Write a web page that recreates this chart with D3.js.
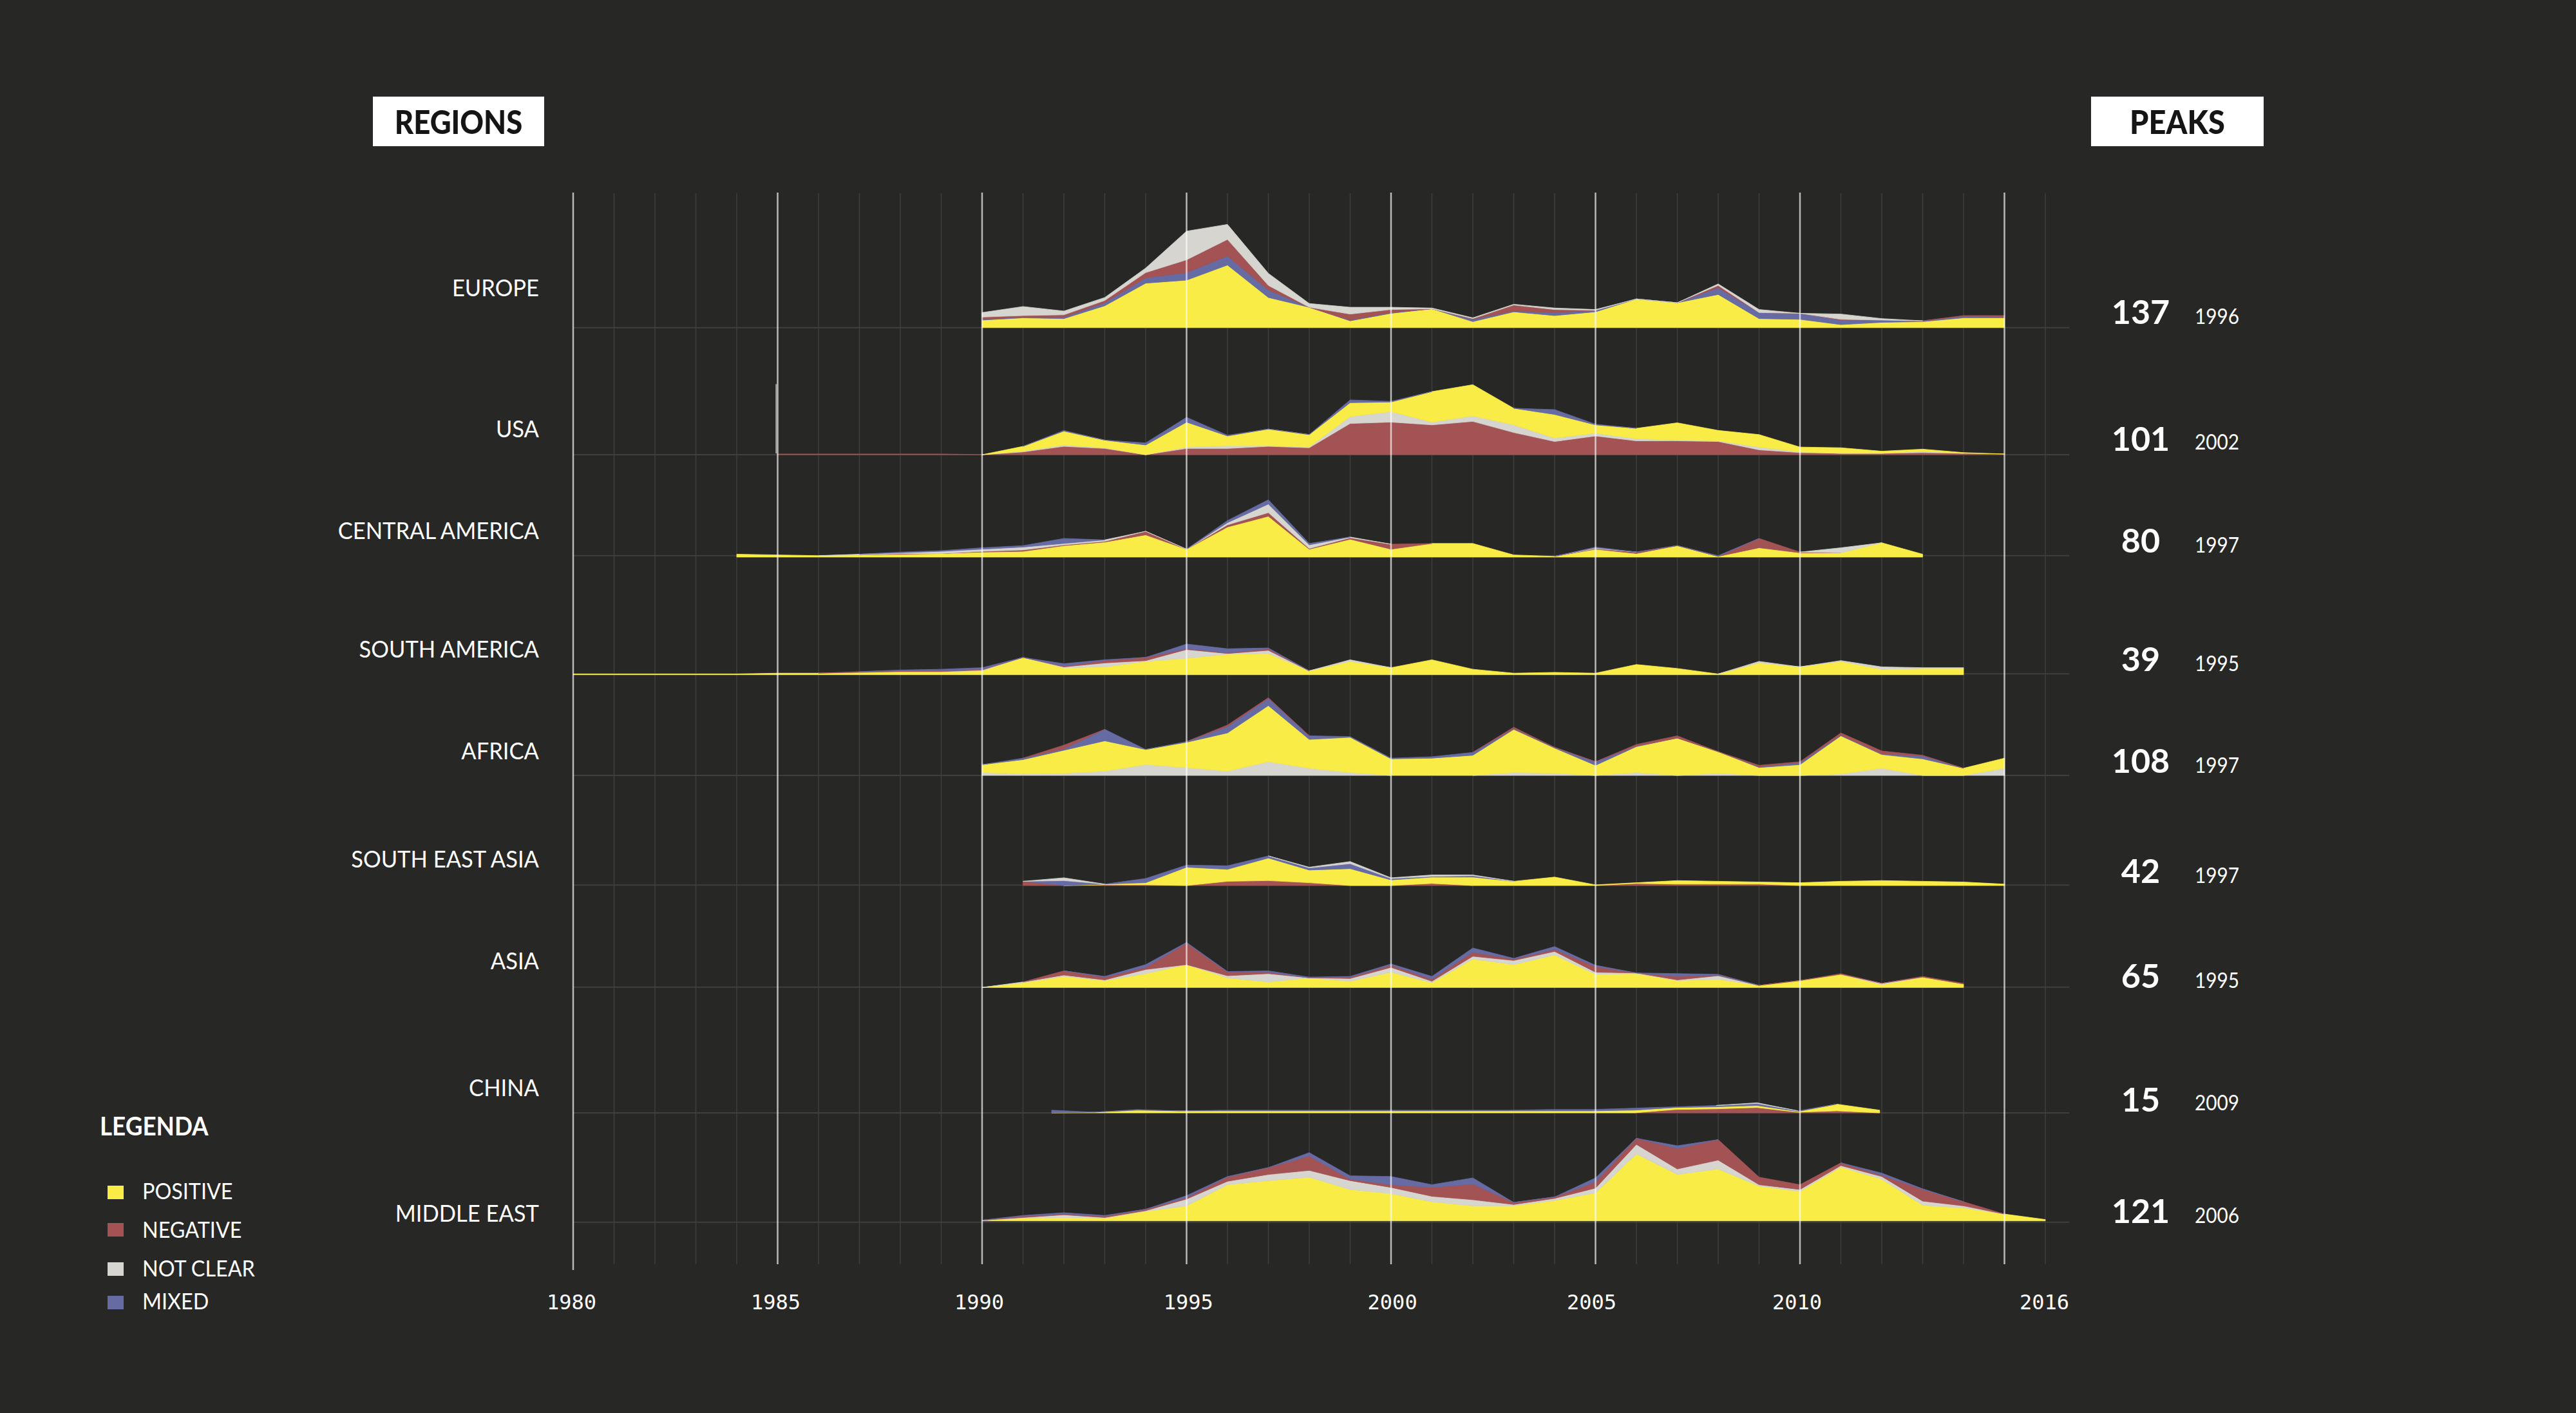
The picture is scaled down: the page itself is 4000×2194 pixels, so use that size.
<!DOCTYPE html>
<html>
<head>
<meta charset="utf-8">
<script src="https://cdn.jsdelivr.net/npm/d3@7/dist/d3.min.js"></script>
<style>
  html, body { margin: 0; background: #272726; }
  svg { display: block; }
  text { font-family: "Lato", "Noto Sans", sans-serif; fill: #fff; }
</style>
</head>
<body>
<svg id="chart" width="4000" height="2194"></svg>
<script>
const regionNames = ["EUROPE", "USA", "CENTRAL AMERICA", "SOUTH AMERICA", "AFRICA", "SOUTH EAST ASIA", "ASIA", "CHINA", "MIDDLE EAST"];
const peakValues = [137, 101, 80, 39, 108, 42, 65, 15, 121];
const peakYears = [1996, 2002, 1997, 1995, 1997, 1997, 1995, 2009, 2006];
const startYears = [1990, 1985, 1984, 1980, 1990, 1991, 1990, 1992, 1990];
const legendLabels = ["POSITIVE", "NEGATIVE", "NOT CLEAR", "MIXED"];
const tickYears = [1980, 1985, 1990, 1995, 2000, 2005, 2010, 2016];

// stacking order differs from region to region
const stackOrders = [
  ["positive", "mixed", "negative", "notClear"],
  ["negative", "notClear", "positive", "mixed"],
  ["positive", "negative", "notClear", "mixed"],
  ["positive", "notClear", "negative", "mixed"],
  ["notClear", "positive", "mixed", "negative"],
  ["negative", "positive", "mixed", "notClear"],
  ["positive", "notClear", "negative", "mixed"],
  ["negative", "positive", "mixed", "notClear"],
  ["positive", "notClear", "negative", "mixed"]
];

const europePositive = [10,13,12,29,59,63,83,40,27,9,19,25,8,21,16,21,38,33,44,12,11,4,7,8,13,13];
const europeMixed = [1,1,2,4,7,10,12,10,0,1,1,0,3,1,4,2,0,0,9,8,8,6,3,1,2,1];
const europeNegative = [3,2,3,3,7,17,22,6,0,8,4,0,1,8,4,0,0,0,3,0,0,1,0,0,1,2];
const europeNotClear = [6,12,5,4,6,38,20,16,5,9,3,1,1,1,2,1,0,0,2,4,0,7,2,0,0,0];

const usaNegative = [1,1,1,1,1,0,4,12,9,0,9,9,12,10,45,47,43,48,32,19,27,20,20,19,7,3,2,2,3,2,1];
const usaNotClear = [0,0,0,0,0,0,1,2,1,0,2,4,1,1,10,15,4,8,11,5,4,3,1,1,4,1,0,0,2,0,0];
const usaPositive = [0,0,0,0,0,0,7,20,11,14,36,14,24,18,20,14,44,45,24,34,12,15,25,15,18,7,8,3,3,1,0];
const usaMixed = [0,0,0,0,0,0,0,1,0,3,7,1,0,0,4,1,0,0,0,7,1,0,0,0,0,0,0,0,0,0,0];
const usaFirstYearMark = 100;

const centralPositive = [4,3,2,3,4,5,7,8,16,21,31,11,42,57,11,25,11,19,19,3,1,11,5,16,1,13,6,6,20,4];
const centralNegative = [0,0,0,0,1,0,1,2,1,1,5,0,3,5,1,2,7,0,0,0,0,1,2,0,0,13,1,0,0,0];
const centralNotClear = [0,0,0,1,1,3,3,4,2,2,0,0,3,12,5,1,0,0,0,0,0,1,0,0,0,0,0,7,0,0];
const centralMixed = [0,0,0,0,1,1,2,2,7,0,0,0,3,6,2,0,0,0,0,0,0,1,0,0,1,0,0,0,0,0];

const southPositive = [1,1,1,1,1,2,2,3,4,4,5,22,9,10,17,21,26,27,5,17,9,19,7,2,3,2,13,8,1,15,10,17,7,8,8];
const southNotClear = [0,0,0,0,0,0,0,0,0,0,1,0,1,5,1,11,1,4,0,2,0,0,0,0,0,0,0,0,0,2,0,1,3,1,1];
const southNegative = [0,0,0,0,0,0,0,1,1,1,1,0,1,3,4,1,1,2,0,0,0,0,0,0,0,0,0,0,0,0,0,0,0,0,0];
const southMixed = [0,0,0,0,0,0,0,0,1,2,2,0,3,1,0,6,5,1,0,0,0,0,0,0,0,0,0,0,0,0,0,0,0,0,0];

const africaNotClear = [4,2,3,6,15,11,6,19,10,4,0,0,0,4,3,0,4,0,3,0,0,2,10,0,0,10];
const africaPositive = [11,20,32,42,21,35,53,78,40,49,23,24,28,60,35,14,36,52,30,11,15,53,19,23,10,14];
const africaMixed = [0,2,2,16,0,1,9,10,5,1,1,2,4,1,1,5,1,0,0,1,3,1,1,4,0,0];
const africaNegative = [0,0,5,0,0,0,2,1,0,0,0,0,0,2,0,0,2,3,0,2,1,3,4,1,0,0];

const seAsiaNegative = [6,0,1,1,0,6,7,4,0,0,3,0,0,0,0,3,2,2,2,0,0,0,0,0,0];
const seAsiaPositive = [0,0,1,3,26,17,32,18,24,8,9,12,6,12,1,1,5,4,3,4,6,7,6,5,2];
const seAsiaMixed = [0,7,0,6,3,5,3,3,7,2,1,2,0,0,0,0,0,0,0,0,0,0,0,0,0];
const seAsiaNotClear = [0,4,0,0,0,0,0,1,3,1,2,1,0,0,0,0,0,0,0,0,0,0,0,0,0];

const asiaPositive = [0,7,16,10,20,33,14,8,14,9,22,7,41,33,47,19,20,10,12,3,10,19,4,15,5];
const asiaNotClear = [0,1,2,1,6,0,3,12,0,4,7,2,4,6,5,3,1,1,5,0,0,0,2,0,0];
const asiaNegative = [0,0,6,4,3,31,5,2,0,2,3,3,6,2,3,8,0,5,1,0,0,1,0,1,1];
const asiaMixed = [0,0,0,1,4,1,1,2,1,1,2,4,6,1,4,2,0,4,1,0,0,0,0,0,0];

// the China row sits a little off the year grid in the original
const chinaYears = [1991.7,1992.75,1993.8,1994.8,1995.85,1996.85,1997.9,1998.9,1999.9,2000.9,2001.9,2002.9,2003.9,2004.9,2005.95,2006.95,2007.95,2008.95,2009.95,2010.9,2011.95];
const chinaNegative = [0,0,0,0,0,0,0,0,0,0,0,0,0,0,0,5,6,8,1,3,0];
const chinaPositive = [0,1,4,3,3,3,3,3,3,3,3,3,3,3,4,3,3,3,1,10,4];
const chinaMixed = [4,0,1,0,1,1,1,1,1,1,1,1,2,2,3,1,2,3,1,0,0];
const chinaNotClear = [0,0,0,0,0,0,0,0,0,0,0,0,0,0,0,0,0,1,0,0,0];

const meastPositive = [1,4,5,4,14,22,53,59,64,46,40,28,22,22,30,41,98,68,76,51,43,79,61,23,19,10,2];
const meastNotClear = [0,1,4,1,1,10,5,9,10,13,9,8,9,2,3,7,14,8,13,2,3,2,4,6,3,0,0];
const meastNegative = [0,2,1,2,2,2,6,10,21,2,4,13,23,3,2,9,9,30,30,11,7,4,2,17,6,0,0];
const meastMixed = [0,1,2,1,0,3,1,0,5,5,12,4,9,0,0,6,0,4,0,0,0,0,3,1,0,0,0];

const seriesByRegion = [
  { positive: europePositive, negative: europeNegative, notClear: europeNotClear, mixed: europeMixed },
  { positive: usaPositive, negative: usaNegative, notClear: usaNotClear, mixed: usaMixed },
  { positive: centralPositive, negative: centralNegative, notClear: centralNotClear, mixed: centralMixed },
  { positive: southPositive, negative: southNegative, notClear: southNotClear, mixed: southMixed },
  { positive: africaPositive, negative: africaNegative, notClear: africaNotClear, mixed: africaMixed },
  { positive: seAsiaPositive, negative: seAsiaNegative, notClear: seAsiaNotClear, mixed: seAsiaMixed },
  { positive: asiaPositive, negative: asiaNegative, notClear: asiaNotClear, mixed: asiaMixed },
  { positive: chinaPositive, negative: chinaNegative, notClear: chinaNotClear, mixed: chinaMixed },
  { positive: meastPositive, negative: meastNegative, notClear: meastNotClear, mixed: meastMixed }
];

// layout, in page pixels
const color = { positive: "#f9ec47", negative: "#a45354", notClear: "#d6d5cf", mixed: "#666ba3" };
const legendKeys = ["positive", "negative", "notClear", "mixed"];
const baselines = [508.7, 706, 865, 1047.7, 1204, 1375, 1533.3, 1728, 1895.7];
const axisLines = [508.7, 706, 862.7, 1046.3, 1204, 1374.3, 1532.7, 1728, 1897.7];
const peakHeights = [160.3, 108.7, 89, 47.7, 120.7, 46, 70, 15.7, 128.3];
const labelBaselines = [460, 679, 837, 1021, 1179, 1347, 1505, 1702, 1897];
const peakBaselines = [503, 700, 858, 1042, 1200, 1371, 1534, 1726, 1899];
const peakYearBaselines = [503, 698, 858, 1042, 1200, 1371, 1534, 1724, 1899];
const legendSwatchTops = [1841, 1899, 1960, 2012];
const legendTextBaselines = [1862, 1922, 1982, 2033];
const tickNudges = [-3, -3.5, -5, 2.3, 1.6, -6.5, -5, -2];

const svg = d3.select("#chart");
svg.append("rect").attr("width", 4000).attr("height", 2194).attr("fill", "#272726");

const x = d3.scaleLinear().domain([1980, 2016]).range([890, 3176]);

// Lato runs wider than the original face, so text gets pulled in horizontally
function placeText(sel, px, py, squeeze) {
  return sel.attr("transform", `translate(${px},${py}) scale(${squeeze},1)`);
}

// minor grid under the areas
const minorYears = d3.range(1981, 2017).filter(y => y % 5 !== 0);
svg.append("g").selectAll("line")
  .data(minorYears)
  .join("line")
  .attr("x1", d => x(d)).attr("x2", d => x(d))
  .attr("y1", 300).attr("y2", 1963)
  .attr("stroke", "#3f3f3d").attr("stroke-width", 1.5);

svg.append("g").selectAll("line")
  .data(axisLines)
  .join("line")
  .attr("x1", 890).attr("x2", 3213)
  .attr("y1", d => d).attr("y2", d => d)
  .attr("stroke", "#3f3f3d").attr("stroke-width", 2);

regionNames.forEach((name, i) => {
  const s = seriesByRegion[i];
  const rows = s.positive.map((_, j) => ({
    year: i === 7 ? chinaYears[j] : startYears[i] + j,
    positive: s.positive[j],
    negative: s.negative[j],
    notClear: s.notClear[j],
    mixed: s.mixed[j]
  }));

  const y = d3.scaleLinear()
    .domain([0, peakValues[i]])
    .range([baselines[i], baselines[i] - peakHeights[i]]);

  const layers = d3.stack().keys(stackOrders[i])(rows);

  // skip the stretches where a layer is empty, its outline would streak over the others
  const areaFor = layer => {
    const filled = j => layer[j] && layer[j][1] - layer[j][0] > 0;
    return d3.area()
      .defined((d, j) => filled(j) || filled(j - 1) || filled(j + 1))
      .x(d => x(d.data.year))
      .y0(d => y(d[0]))
      .y1(d => y(d[1]))(layer);
  };

  svg.append("g")
    .attr("class", "region")
    .selectAll("path")
    .data(layers)
    .join("path")
    .attr("d", areaFor)
    .attr("fill", d => color[d.key])
    .attr("stroke", d => color[d.key])
    .attr("stroke-width", 0.8);

  placeText(svg.append("text"), 837, labelBaselines[i], 0.96)
    .attr("text-anchor", "end")
    .attr("font-size", 36)
    .text(name);

  svg.append("text")
    .attr("x", 3324).attr("y", peakBaselines[i])
    .attr("text-anchor", "middle")
    .attr("font-size", 52).attr("font-weight", 700)
    .text(peakValues[i]);

  placeText(svg.append("text"), 3408, peakYearBaselines[i], 0.93)
    .attr("font-size", 32)
    .text(peakYears[i]);
});

// major grid goes over the areas
const majorYears = d3.range(1980, 2016, 5);
svg.append("g").selectAll("line")
  .data(majorYears)
  .join("line")
  .attr("x1", d => x(d)).attr("x2", d => x(d))
  .attr("y1", 299).attr("y2", d => d === 1980 ? 1972 : 1963)
  .attr("stroke", "#fff").attr("stroke-opacity", 0.68).attr("stroke-width", 2.5);

// thin mark beside the 1985 line on the USA row
const usaY = d3.scaleLinear().domain([0, peakValues[1]]).range([baselines[1], baselines[1] - peakHeights[1]]);
svg.append("line")
  .attr("x1", x(1985) - 2).attr("x2", x(1985) - 2)
  .attr("y1", usaY(0) - 2).attr("y2", usaY(usaFirstYearMark) - 2)
  .attr("stroke", "#a8a6a0").attr("stroke-width", 2.5);

const xAxis = d3.axisBottom(x).tickValues(tickYears).tickSize(0).tickFormat(d3.format("d"));
const axisG = svg.append("g").attr("transform", "translate(0,2000)").call(xAxis);
axisG.select(".domain").remove();
axisG.selectAll("text")
  .attr("x", (d, i) => tickNudges[i])
  .attr("y", 33).attr("dy", 0)
  .style("font-family", "'DejaVu Sans Mono', monospace")
  .attr("font-size", 32);

// header boxes
[["REGIONS", 579, 266, 0.89], ["PEAKS", 3247, 268, 0.92]].forEach(([label, left, w, squeeze]) => {
  svg.append("rect").attr("x", left).attr("y", 150).attr("width", w).attr("height", 77).attr("fill", "#fff");
  placeText(svg.append("text"), left + w / 2, 208, squeeze)
    .attr("text-anchor", "middle")
    .attr("font-size", 51).attr("font-weight", 900)
    .style("fill", "#151515")
    .text(label);
});

// legend
placeText(svg.append("text"), 155, 1763, 0.92)
  .attr("font-size", 40).attr("font-weight", 700)
  .text("LEGENDA");
legendLabels.forEach((label, i) => {
  svg.append("rect")
    .attr("x", 167).attr("y", legendSwatchTops[i])
    .attr("width", 25).attr("height", 21)
    .attr("fill", color[legendKeys[i]]);
  placeText(svg.append("text"), 221, legendTextBaselines[i], 0.95)
    .attr("font-size", 34)
    .text(label);
});
</script>
</body>
</html>
